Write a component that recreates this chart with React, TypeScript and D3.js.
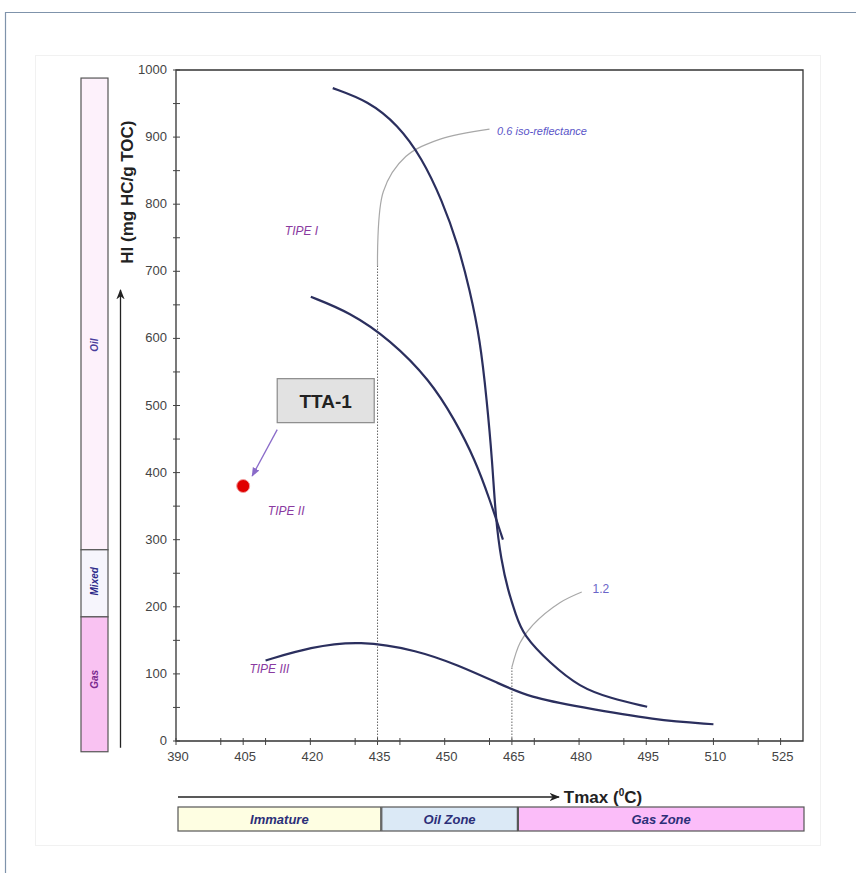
import React, { useEffect, useRef } from 'react';
import * as d3 from 'd3';

// axis ticks
const tmaxLabels = [390, 405, 420, 435, 450, 465, 480, 495, 510, 525];
const tmaxMinor = [400, 410, 430, 440, 460, 470, 490, 500, 520];
const hiLabels = [0, 100, 200, 300, 400, 500, 600, 700, 800, 900, 1000];
const hiMinor = [50, 150, 250, 350, 450, 550, 650, 750, 850, 950];

// kerogen type curves [Tmax, HI]
const typeI: [number, number][] = [
  [425, 973], [432.9, 954], [439.6, 918], [444.9, 869], [449.4, 806], [453, 739],
  [455.6, 672], [457.9, 598], [459.4, 508], [460.6, 419], [461.4, 329], [462.6, 270],
  [464.1, 225], [465.9, 188], [467.5, 158], [473.5, 116], [480.2, 80], [486.9, 64], [495.2, 51],
];
const typeII: [number, number][] = [
  [420.1, 662], [428.8, 639], [437.8, 598], [446.7, 538], [452.3, 478], [456.8, 419],
  [460.1, 359], [463, 300],
];
const typeIII: [number, number][] = [
  [410, 120], [420, 140], [431, 150], [444, 135], [453, 113], [462, 86],
  [469, 65], [480, 51], [497, 31], [510, 25],
];

// iso-reflectance lines
const iso06Line: [number, number][] = [[435, 0], [435, 708]];
const iso06Curve: [number, number][] = [[435, 708], [436.3, 819], [441.3, 871], [449, 897], [460, 912]];
const iso12Line: [number, number][] = [[465, 0], [465, 110]];
const iso12Curve: [number, number][] = [[465, 110], [466.8, 146], [469.7, 173], [475.7, 206], [480.6, 222]];

// sample
const sampleName = 'TTA-1';
const sampleTmax = 405;
const sampleHI = 380;

// type labels [text, Tmax, HI]
const typeLabels: [string, number, number][] = [
  ['TIPE I', 414.3, 754],
  ['TIPE II', 410.5, 337],
  ['TIPE III', 406.4, 101],
];

// hydrocarbon bands on the HI side
const hcNames = ['Oil', 'Mixed', 'Gas'];
const hcFrom = [285, 185, -16];
const hcTo = [988, 285, 185];
const hcLabelAt = [590, 238, 92];

// maturity zones along Tmax
const zoneNames = ['Immature', 'Oil Zone', 'Gas Zone'];
const zoneFrom = [390, 435.5, 466];
const zoneTo = [435.5, 466, 530];

const hcFill: Record<string, string> = { Oil: '#fdf1fb', Mixed: '#f6f5fc', Gas: '#f9c2f2' };
const hcText: Record<string, string> = { Oil: '#4a3d9c', Mixed: '#2d2a8a', Gas: '#7a2a8e' };
const zoneFill: Record<string, string> = { Immature: '#fefee2', 'Oil Zone': '#dbe9f6', 'Gas Zone': '#fbbdf9' };

const W = 856;
const H = 873;

const App = () => {
  const svgRef = useRef<SVGSVGElement>(null);

  useEffect(() => {
    const svg = d3.select(svgRef.current);
    svg.selectAll('*').remove();

    const x = d3.scaleLinear().domain([390, 530]).range([176, 803]);
    const y = d3.scaleLinear().domain([0, 1000]).range([741, 70]);
    const font = 'Liberation Sans, Arial, sans-serif';
    const narrow = 'Liberation Sans Narrow, Liberation Sans, Arial, sans-serif';

    const defs = svg.append('defs');
    defs.append('marker')
      .attr('id', 'arrBlack').attr('viewBox', '0 0 10 10').attr('refX', 9).attr('refY', 5)
      .attr('markerWidth', 8).attr('markerHeight', 8).attr('orient', 'auto-start-reverse')
      .append('path').attr('d', 'M0,1 L10,5 L0,9 L3,5 Z').attr('fill', '#222');
    defs.append('marker')
      .attr('id', 'arrPurple').attr('viewBox', '0 0 10 10').attr('refX', 9).attr('refY', 5)
      .attr('markerWidth', 7).attr('markerHeight', 7).attr('orient', 'auto')
      .append('path').attr('d', 'M0,1 L10,5 L0,9 Z').attr('fill', '#8a6bc9');

    svg.append('rect').attr('width', W).attr('height', H).attr('fill', '#fff');

    // outer frame (left + top)
    svg.append('path').attr('d', `M5.5,${H} L5.5,12.5 L${W},12.5`)
      .attr('fill', 'none').attr('stroke', '#7f93ab').attr('stroke-width', 1.2);
    // faint panel
    svg.append('rect').attr('x', 35.5).attr('y', 55.5).attr('width', 785).attr('height', 790)
      .attr('fill', 'none').attr('stroke', '#f1f1f1');

    // HC bands on the left
    const bands = svg.append('g');
    hcNames.forEach((n, i) => {
      const top = y(hcTo[i]);
      const bot = y(hcFrom[i]);
      bands.append('rect').attr('x', 81).attr('y', top).attr('width', 27).attr('height', bot - top)
        .attr('fill', hcFill[n]).attr('stroke', '#555').attr('stroke-width', 1.2);
      bands.append('text')
        .attr('transform', `translate(98,${y(hcLabelAt[i])}) rotate(-90)`)
        .attr('text-anchor', 'middle').attr('font-family', font).attr('font-size', 10)
        .attr('font-style', 'italic').attr('font-weight', 'bold').attr('fill', hcText[n])
        .text(n);
    });

    // HI arrow + label
    svg.append('line').attr('x1', 120.5).attr('x2', 120.5).attr('y1', y(-10)).attr('y2', y(672))
      .attr('stroke', '#222').attr('stroke-width', 1.3).attr('marker-end', 'url(#arrBlack)');
    svg.append('text')
      .attr('transform', `translate(133,${y(818)}) rotate(-90)`)
      .attr('text-anchor', 'middle').attr('font-family', narrow).attr('font-size', 17)
      .attr('font-weight', 'bold').attr('fill', '#222')
      .text('HI (mg HC/g TOC)');

    // plot frame
    svg.append('path')
      .attr('d', `M${x(390)},${y(0)} L${x(390)},${y(1000)} L${x(530)},${y(1000)} L${x(530)},${y(0)} Z`)
      .attr('fill', 'none').attr('stroke', '#333').attr('stroke-width', 1.3);

    // ticks
    const ticks = svg.append('g').attr('stroke', '#444').attr('stroke-width', 1);
    [...hiLabels, ...hiMinor].forEach(v => {
      ticks.append('line').attr('x1', x(390) - 3).attr('x2', x(390) + 4).attr('y1', y(v)).attr('y2', y(v));
    });
    [...tmaxLabels, ...tmaxMinor].forEach(v => {
      ticks.append('line').attr('x1', x(v)).attr('x2', x(v)).attr('y1', y(0) - 3).attr('y2', y(0) + 4);
    });
    svg.append('g').selectAll('text').data(hiLabels).enter().append('text')
      .attr('x', 167).attr('y', d => y(d) + 4).attr('text-anchor', 'end')
      .attr('font-family', narrow).attr('font-size', 13).attr('fill', '#444')
      .text(d => d);
    svg.append('g').selectAll('text').data(tmaxLabels).enter().append('text')
      .attr('x', d => x(d) + 2).attr('y', y(0) + 20).attr('text-anchor', 'middle')
      .attr('font-family', narrow).attr('font-size', 13).attr('fill', '#444')
      .text(d => d);

    // iso-reflectance lines
    const lineGen = d3.line<[number, number]>().x(d => x(d[0])).y(d => y(d[1]));
    const curveGen = d3.line<[number, number]>().x(d => x(d[0])).y(d => y(d[1])).curve(d3.curveCatmullRom);
    [iso06Line, iso12Line].forEach(l => {
      svg.append('path').attr('d', lineGen(l)).attr('fill', 'none')
        .attr('stroke', '#666').attr('stroke-width', 1).attr('stroke-dasharray', '1.5,1.5');
    });
    [iso06Curve, iso12Curve].forEach(l => {
      svg.append('path').attr('d', curveGen(l)).attr('fill', 'none')
        .attr('stroke', '#a8a8a8').attr('stroke-width', 1.2);
    });
    svg.append('text').attr('x', x(461.7)).attr('y', y(903)).attr('font-family', font)
      .attr('font-size', 11).attr('font-style', 'italic').attr('fill', '#5a55c8')
      .text('0.6 iso-reflectance');
    svg.append('text').attr('x', x(483)).attr('y', y(220)).attr('font-family', font)
      .attr('font-size', 12).attr('fill', '#6a64c8')
      .text('1.2');

    // kerogen curves
    const kerogen = d3.line<[number, number]>().x(d => x(d[0])).y(d => y(d[1])).curve(d3.curveBasis);
    [typeI, typeII, typeIII].forEach(c => {
      svg.append('path').attr('d', kerogen(c)).attr('fill', 'none')
        .attr('stroke', '#2b2f5e').attr('stroke-width', 2.2).attr('stroke-linejoin', 'round');
    });

    // type labels
    svg.append('g').selectAll('text').data(typeLabels).enter().append('text')
      .attr('x', d => x(d[1])).attr('y', d => y(d[2]))
      .attr('font-family', font).attr('font-size', 12).attr('font-style', 'italic')
      .attr('fill', '#8a3aa0')
      .text(d => d[0]);

    // sample point + callout
    const bx = x(412.6);
    const by = y(540);
    svg.append('rect').attr('x', bx).attr('y', by).attr('width', 97).attr('height', 44)
      .attr('fill', '#e2e2e2').attr('stroke', '#8a8a8a').attr('stroke-width', 1.2);
    svg.append('text').attr('x', bx + 48.5).attr('y', by + 29).attr('text-anchor', 'middle')
      .attr('font-family', font).attr('font-size', 19).attr('font-weight', 'bold').attr('fill', '#222')
      .text(sampleName);
    svg.append('line').attr('x1', bx).attr('y1', by + 51).attr('x2', x(sampleTmax) + 9).attr('y2', y(sampleHI) - 10)
      .attr('stroke', '#8a6bc9').attr('stroke-width', 1.3).attr('marker-end', 'url(#arrPurple)');
    svg.append('circle').attr('cx', x(sampleTmax)).attr('cy', y(sampleHI)).attr('r', 6.5)
      .attr('fill', '#e00000').attr('stroke', '#f2a0a0').attr('stroke-width', 1);

    // Tmax arrow + label
    const ay = 797;
    svg.append('line').attr('x1', x(390) + 2).attr('x2', x(475.5)).attr('y1', ay).attr('y2', ay)
      .attr('stroke', '#222').attr('stroke-width', 1.3).attr('marker-end', 'url(#arrBlack)');
    const tl = svg.append('text').attr('x', x(476.6)).attr('y', ay + 6)
      .attr('font-family', narrow).attr('font-size', 17).attr('font-weight', 'bold').attr('fill', '#222');
    tl.append('tspan').text('Tmax (');
    tl.append('tspan').attr('font-size', 10).attr('dy', -7).text('0');
    tl.append('tspan').attr('dy', 7).text('C)');

    // maturity zones
    zoneNames.forEach((n, i) => {
      const x0 = x(zoneFrom[i]) + 2;
      const x1 = x(zoneTo[i]) + 1;
      svg.append('rect').attr('x', x0).attr('y', 807).attr('width', x1 - x0).attr('height', 24)
        .attr('fill', zoneFill[n]).attr('stroke', '#555').attr('stroke-width', 1.2);
      svg.append('text').attr('x', (x0 + x1) / 2).attr('y', 824).attr('text-anchor', 'middle')
        .attr('font-family', font).attr('font-size', 13).attr('font-weight', 'bold')
        .attr('font-style', 'italic').attr('fill', '#2c2f78')
        .text(n);
    });
  }, []);

  return (
    <svg
      ref={svgRef}
      width={W}
      height={H}
      style={{ position: 'absolute', left: 0, top: 0, display: 'block' }}
    />
  );
};

export default App;
